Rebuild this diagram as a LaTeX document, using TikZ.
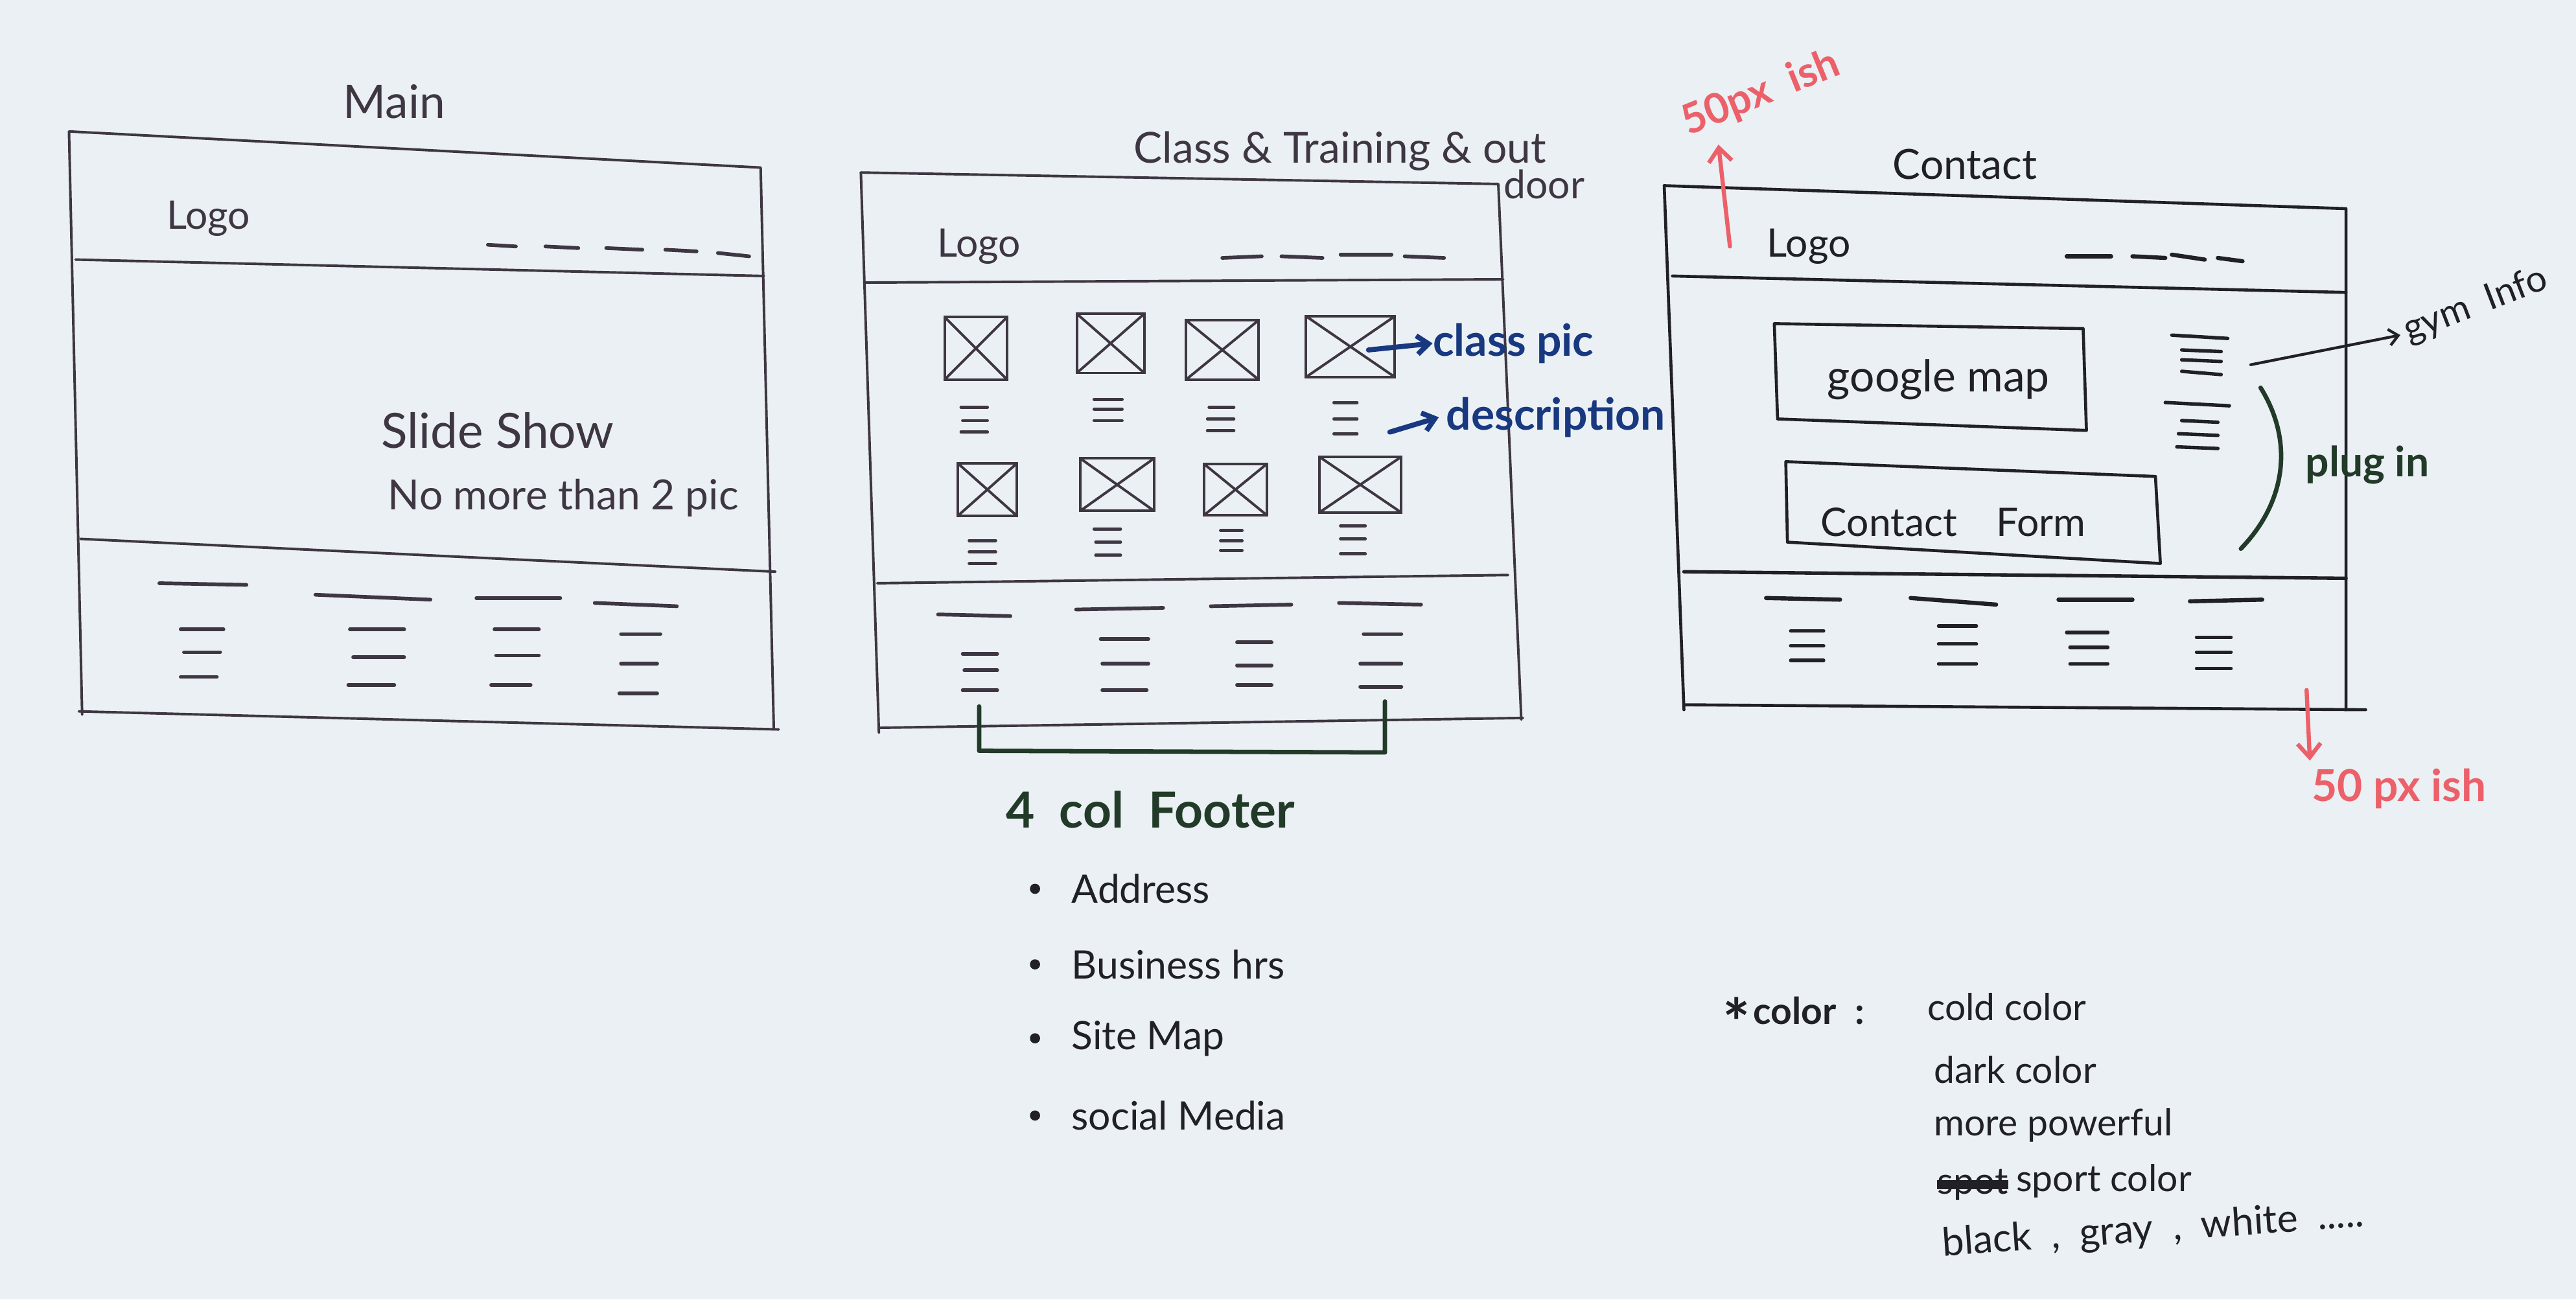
\documentclass[tikz,border=0pt]{standalone}
\usepackage{fontspec}
\setmainfont{Lato}
\usetikzlibrary{arrows.meta}
\definecolor{paper}{RGB}{234,240,244}
\definecolor{inkA}{RGB}{62,54,66}
\definecolor{inkB}{RGB}{32,32,38}
\definecolor{penblue}{RGB}{24,56,128}
\definecolor{pengreen}{RGB}{34,58,40}
\definecolor{penred}{RGB}{236,96,106}

\begin{document}
\begin{tikzpicture}[x=0.025cm,y=-0.025cm,
  ink/.style={draw=inkA,line width=1.1pt,line cap=round,line join=round},
  inkb/.style={draw=inkB,line width=1.3pt,line cap=round,line join=round},
  stripe/.style={draw=inkA,line width=1.6pt,line cap=round},
  stripeb/.style={draw=inkB,line width=1.8pt,line cap=round},
  hand/.style={inner sep=0pt,text=inkA,font=\fontsize{17}{19}\selectfont},
  handb/.style={inner sep=0pt,text=inkB,font=\fontsize{16}{18}\selectfont},
  bluenote/.style={inner sep=0pt,text=penblue,font=\bfseries\fontsize{19}{21}\selectfont},
  greennote/.style={inner sep=0pt,text=pengreen,font=\bfseries\fontsize{19}{21}\selectfont},
  rednote/.style={inner sep=0pt,text=penred,font=\bfseries\fontsize{18}{20}\selectfont},
  bluearrow/.style={draw=penblue,line width=2.2pt,line cap=round,-{Straight Barb[length=5pt,width=8pt]}},
  redarrow/.style={draw=penred,line width=1.8pt,line cap=round,-{Straight Barb[length=6pt,width=10pt]}},
  thinarrow/.style={draw=inkB,line width=1.2pt,line cap=round,-{Straight Barb[length=4pt,width=7pt]}},
  greenline/.style={draw=pengreen,line width=1.9pt,line cap=round,line join=round},
  imgbox/.style 2 args={draw=inkA,line width=1.1pt,inner sep=0pt,
    minimum width=#1*0.025cm,minimum height=#2*0.025cm,
    path picture={\draw[inkA,line width=1.1pt]
      (path picture bounding box.south west) -- (path picture bounding box.north east)
      (path picture bounding box.north west) -- (path picture bounding box.south east);}},
]
% paper
\fill[paper] (0,0) rectangle (1568,791);
\useasboundingbox (0,0) rectangle (1568,791);

% ---------------- Main page ----------------
\node[hand,font=\fontsize{20}{22}\selectfont] (mainT) at (240,62) {Main};
\draw[ink] (42,80) -- (463,102) -- (471,443);
\draw[ink] (42,80) -- (50,435);
\draw[ink] (48,433) -- (474,444);
\draw[ink] (46,158) -- (465,168);
\draw[ink] (49,328) -- (472,348);
\node[hand] (mainLogo) at (127,133) {Logo};
\foreach \a/\b/\c/\d in {297/149/314/150, 332/150/352/151, 369/151/391/152, 405/152/424/153, 437/154/456/156}
  \draw[stripe] (\a,\b) -- (\c,\d);
\node[hand,anchor=west,font=\fontsize{21}{23}\selectfont] (slide) at (232,262) {Slide Show};
\node[hand,anchor=west,font=\fontsize{18}{20}\selectfont] (nomore) at (236,303) {No more than 2 pic};
% main footer
\foreach \a/\b/\c/\d in {97/355/150/356, 192/362/262/365, 290/364/341/364, 362/367/412/369}
  \draw[stripe] (\a,\b) -- (\c,\d);
\foreach \a/\b/\c in {110/136/383, 112/134/397, 110/132/412,
                      213/246/383, 215/246/400, 212/240/417,
                      301/328/383, 302/328/399, 299/323/417,
                      378/402/386, 378/400/404, 377/400/422}
  \draw[stripe] (\a,\c) -- (\b,\c);

% ---------------- Class & Training page ----------------
\node[hand,anchor=west,font=\fontsize{18.5}{20}\selectfont] (classT) at (690,92) {Class \& Training \& out};
\node[hand,font=\fontsize{17}{19}\selectfont] (door) at (940,112) {door};
\draw[ink] (524,105) -- (912,112) -- (926,438);
\draw[ink] (524,105) -- (535,446);
\draw[ink] (535,443) -- (927,437);
\draw[ink] (526,172) -- (915,170);
\draw[ink] (534,355) -- (918,350);
\node[hand] (classLogo) at (596,150) {Logo};
\foreach \a/\b/\c/\d in {744/157/768/156, 780/156/805/157, 816/155/847/155, 855/156/879/157}
  \draw[stripe] (\a,\b) -- (\c,\d);
% class pictures
\node[imgbox={38}{38}] (p11) at (594,212) {};
\node[imgbox={41}{36}] (p12) at (676,209) {};
\node[imgbox={44}{36}] (p13) at (744,213) {};
\node[imgbox={54}{37}] (p14) at (822,211) {};
\node[imgbox={36}{32}] (p21) at (601,298) {};
\node[imgbox={45}{32}] (p22) at (680,295) {};
\node[imgbox={38}{31}] (p23) at (752,298) {};
\node[imgbox={50}{34}] (p24) at (828,295) {};
% descriptions
\foreach \a/\b/\c in {585/601/248, 586/601/256, 585/601/263,
                      666/683/243, 666/683/249, 666/683/256,
                      736/751/248, 735/751/255, 735/751/262,
                      812/826/245, 812/826/255, 812/826/264,
                      590/606/329, 590/606/336, 590/606/343,
                      666/682/322, 667/682/330, 667/682/338,
                      743/756/323, 743/756/329, 743/756/335,
                      816/831/320, 816/831/328, 816/831/337}
  \draw[stripe,line width=1.4pt] (\a,\c) -- (\b,\c);
% class footer
\foreach \a/\b/\c/\d in {571/374/615/375, 655/371/708/370, 737/369/786/368, 815/367/865/368}
  \draw[stripe] (\a,\b) -- (\c,\d);
\foreach \a/\b/\c in {586/607/398, 587/607/408, 586/607/420,
                      670/699/389, 671/699/404, 671/698/420,
                      753/774/391, 753/774/405, 753/774/417,
                      830/853/386, 828/853/404, 828/853/418}
  \draw[stripe] (\a,\c) -- (\b,\c);
% footer bracket
\draw[greenline] (596,430) -- (596,457) -- (843,458) -- (843,427);
% blue notes
\coordinate (picTail) at (833,213);
\coordinate (descTail) at (846,263);
\node[bluenote,anchor=west] (classpic) at (872,209) {class pic};
\node[bluenote,anchor=west] (desc) at (880,254) {description};
\draw[bluearrow] (picTail) -- (classpic.west);
\draw[bluearrow] (descTail) -- ([xshift=-3pt]desc.west);

% ---------------- Contact page ----------------
\node[hand,text=inkB,font=\fontsize{18}{20}\selectfont] (contactT) at (1196,100) {Contact};
\draw[inkb] (1013,113) -- (1428,127) -- (1428,432);
\draw[inkb] (1013,113) -- (1025,432);
\draw[inkb] (1025,429) -- (1440,432);
\draw[inkb] (1018,168) -- (1428,178);
\draw[inkb,line width=1.5pt] (1025,348) -- (1428,352);
\node[hand,text=inkB] (contactLogo) at (1101,150) {Logo};
\foreach \a/\b/\c/\d in {1258/156/1285/156, 1298/156/1318/157, 1322/155/1342/158, 1350/157/1365/159}
  \draw[stripeb] (\a,\b) -- (\c,\d);
% map and form
\draw[inkb] (1080,197) -- (1268,200) -- (1270,262) -- (1082,255) -- cycle;
\node[handb,font=\fontsize{19}{21}\selectfont] (gmap) at (1180,231) {google map};
\draw[inkb] (1087,281) -- (1312,290) -- (1315,343) -- (1088,330) -- cycle;
\node[handb,font=\fontsize{17}{19}\selectfont] (cform) at (1189,318) {Contact\quad Form};
% gym info lines
\foreach \a/\b/\c/\d in {1322/204/1356/206, 1328/213/1352/214, 1328/219/1352/220, 1328/226/1352/228,
                          1318/245/1357/247, 1328/256/1350/257, 1326/264/1350/265, 1325/272/1350/273}
  \draw[stripeb,line width=1.5pt] (\a,\b) -- (\c,\d);
\coordinate (gymTail) at (1370,222);
\node[handb,rotate=21,font=\fontsize{16}{18}\selectfont] (gym) at (1507,186) {gym\enspace Info};
\draw[thinarrow] (gymTail) -- ([shift={(-2pt,-1pt)}]gym.west);
% plug in
\draw[greenline] (1376,236) .. controls (1396,268) and (1392,305) .. (1364,334);
\node[greennote,font=\bfseries\fontsize{18}{20}\selectfont] (plugin) at (1441,283) {plug in};
% contact footer
\foreach \a/\b/\c/\d in {1075/364/1120/365, 1163/364/1215/368, 1253/365/1298/365, 1333/366/1377/365}
  \draw[stripeb] (\a,\b) -- (\c,\d);
\foreach \a/\b/\c in {1090/1110/384, 1090/1110/393, 1090/1110/402,
                      1180/1203/381, 1180/1203/392, 1180/1203/404,
                      1258/1283/385, 1260/1283/394, 1260/1283/404,
                      1337/1358/388, 1337/1358/397, 1337/1358/407}
  \draw[stripeb,line width=1.5pt] (\a,\c) -- (\b,\c);
% red size notes
\coordinate (upTail) at (1053,150);
\node[rednote,rotate=22] (topNote) at (1072,57) {50px\enspace ish};
\coordinate (upHead) at (1046,88);
\draw[redarrow] (upTail) -- (upHead);
\coordinate (downTail) at (1404,420);
\coordinate (downHead) at (1406,463);
\draw[redarrow] (downTail) -- (downHead);
\node[rednote,anchor=west,font=\bfseries\fontsize{19}{21}\selectfont] (botNote) at (1407,480) {50 px ish};

% ---------------- footer notes ----------------
\node[greennote,anchor=west,font=\bfseries\fontsize{21.5}{23}\selectfont] (fourcol) at (612,493) {4\enspace col\enspace Footer};
\foreach \y/\t/\n in {541/Address/fa, 587/Business hrs/fb, 632/Site Map/fc, 679/social Media/fd}{
  \fill[inkB] (630,\y) circle (2.2pt);
  \node[handb,anchor=west,font=\fontsize{17}{19}\selectfont] (\n) at (652,\y) {\t};
}

% ---------------- colour notes ----------------
\node[handb,font=\bfseries\fontsize{28}{28}\selectfont] (star) at (1057,622) {*};
\node[handb,anchor=west,font=\bfseries\fontsize{16}{18}\selectfont] (colorlbl) at (1067,615) {color\enspace :};
\node[handb,anchor=west] (c1) at (1173,613) {cold color};
\node[handb,anchor=west] (c2) at (1177,651) {dark color};
\node[handb,anchor=west] (c3) at (1177,685) {more powerful};
\node[handb,anchor=west] (c4a) at (1179,721) {spot};
\draw[inkB,line width=4pt] (c4a.west) -- (c4a.east);
\node[handb,anchor=west] (c4) at (1227,719) {sport color};
\node[handb,anchor=west,rotate=4,font=\fontsize{17}{19}\selectfont] (c5) at (1182,758) {black\enspace ,\enspace gray\enspace ,\enspace white\enspace .....};
\end{tikzpicture}
\end{document}
